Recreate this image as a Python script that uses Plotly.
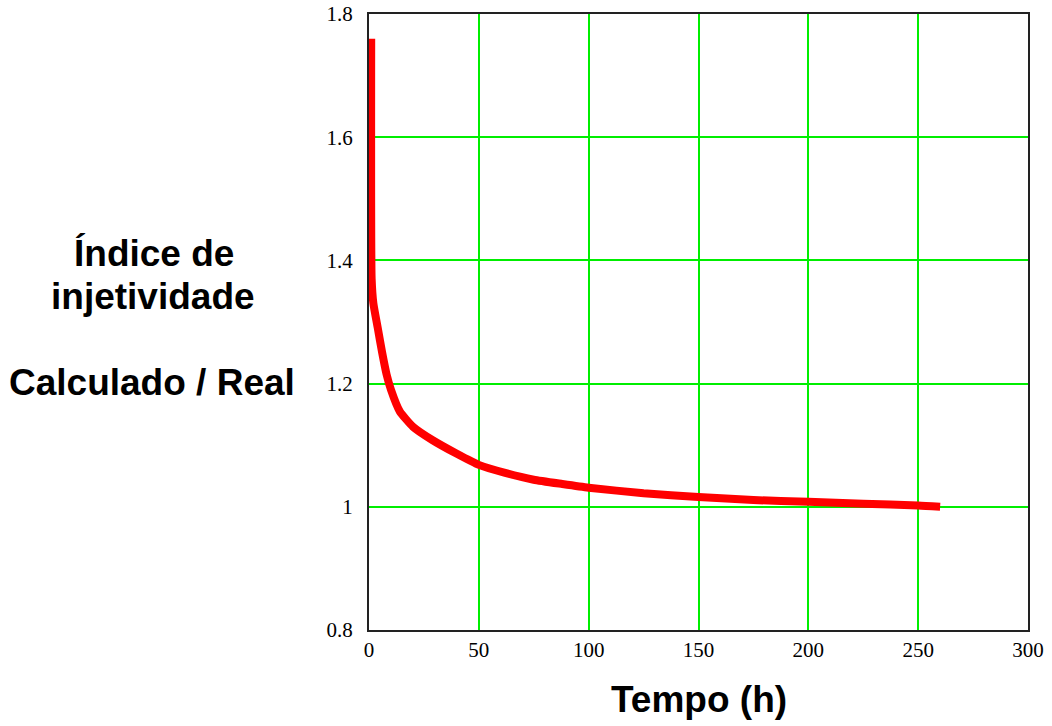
import plotly.graph_objects as go

# Ratio of calculated to real injectivity index over time
tempo_h = [1.0, 1.2, 2, 4, 6, 8, 10, 14, 20, 29, 40, 50, 62, 75, 88,
           100, 125, 150, 175, 200, 225, 250, 260]
indice = [1.76, 1.37, 1.33, 1.29, 1.25, 1.215, 1.19, 1.155, 1.13, 1.108,
          1.086, 1.068, 1.055, 1.044, 1.037, 1.031, 1.022, 1.016, 1.011,
          1.008, 1.005, 1.002, 1.0]

x_ticks = [0, 50, 100, 150, 200, 250, 300]
y_ticks = [0.8, 1.0, 1.2, 1.4, 1.6, 1.8]
y_tick_text = ["0.8", "1", "1.2", "1.4", "1.6", "1.8"]

fig = go.Figure()
fig.add_trace(go.Scatter(
    x=tempo_h, y=indice, mode="lines",
    line=dict(color="#ff0000", width=8, shape="spline", smoothing=0.5),
    showlegend=False,
))

tick_font = dict(family="Liberation Serif", size=21, color="#000000")
fig.update_xaxes(
    range=[0, 300], tickvals=x_ticks, tickfont=tick_font, automargin=False,
    showgrid=True, gridcolor="#00ee00", gridwidth=2,
    showline=True, linecolor="#222222", linewidth=2, mirror=True,
    zeroline=False, ticks="", ticklabelstandoff=0, layer="below traces",
)
fig.update_yaxes(
    range=[0.8, 1.8], tickvals=y_ticks, ticktext=y_tick_text, tickfont=tick_font,
    automargin=False,
    showgrid=True, gridcolor="#00ee00", gridwidth=2,
    showline=True, linecolor="#222222", linewidth=2, mirror=True,
    zeroline=False, ticks="", ticklabelstandoff=10, layer="below traces",
)

title_font = dict(family="Liberation Sans", size=37, color="#000000")
for text, xpix, ypix in [("<b>Índice de</b>", 154, 253),
                         ("<b>injetividade</b>", 153, 296),
                         ("<b>Calculado / Real</b>", 152, 382)]:
    fig.add_annotation(
        text=text, xref="paper", yref="paper",
        x=(xpix - 369) / 659, y=(630 - ypix) / 616,
        xanchor="center", yanchor="middle", showarrow=False, font=title_font,
    )
fig.add_annotation(
    text="<b>Tempo (h)</b>", xref="paper", yref="paper",
    x=(699 - 369) / 659, y=(630 - 700) / 616,
    xanchor="center", yanchor="middle", showarrow=False, font=title_font,
)

fig.update_layout(
    width=1052, height=726,
    margin=dict(l=369, r=24, t=14, b=96),
    paper_bgcolor="white", plot_bgcolor="white",
)

fig.write_html("out.html")
